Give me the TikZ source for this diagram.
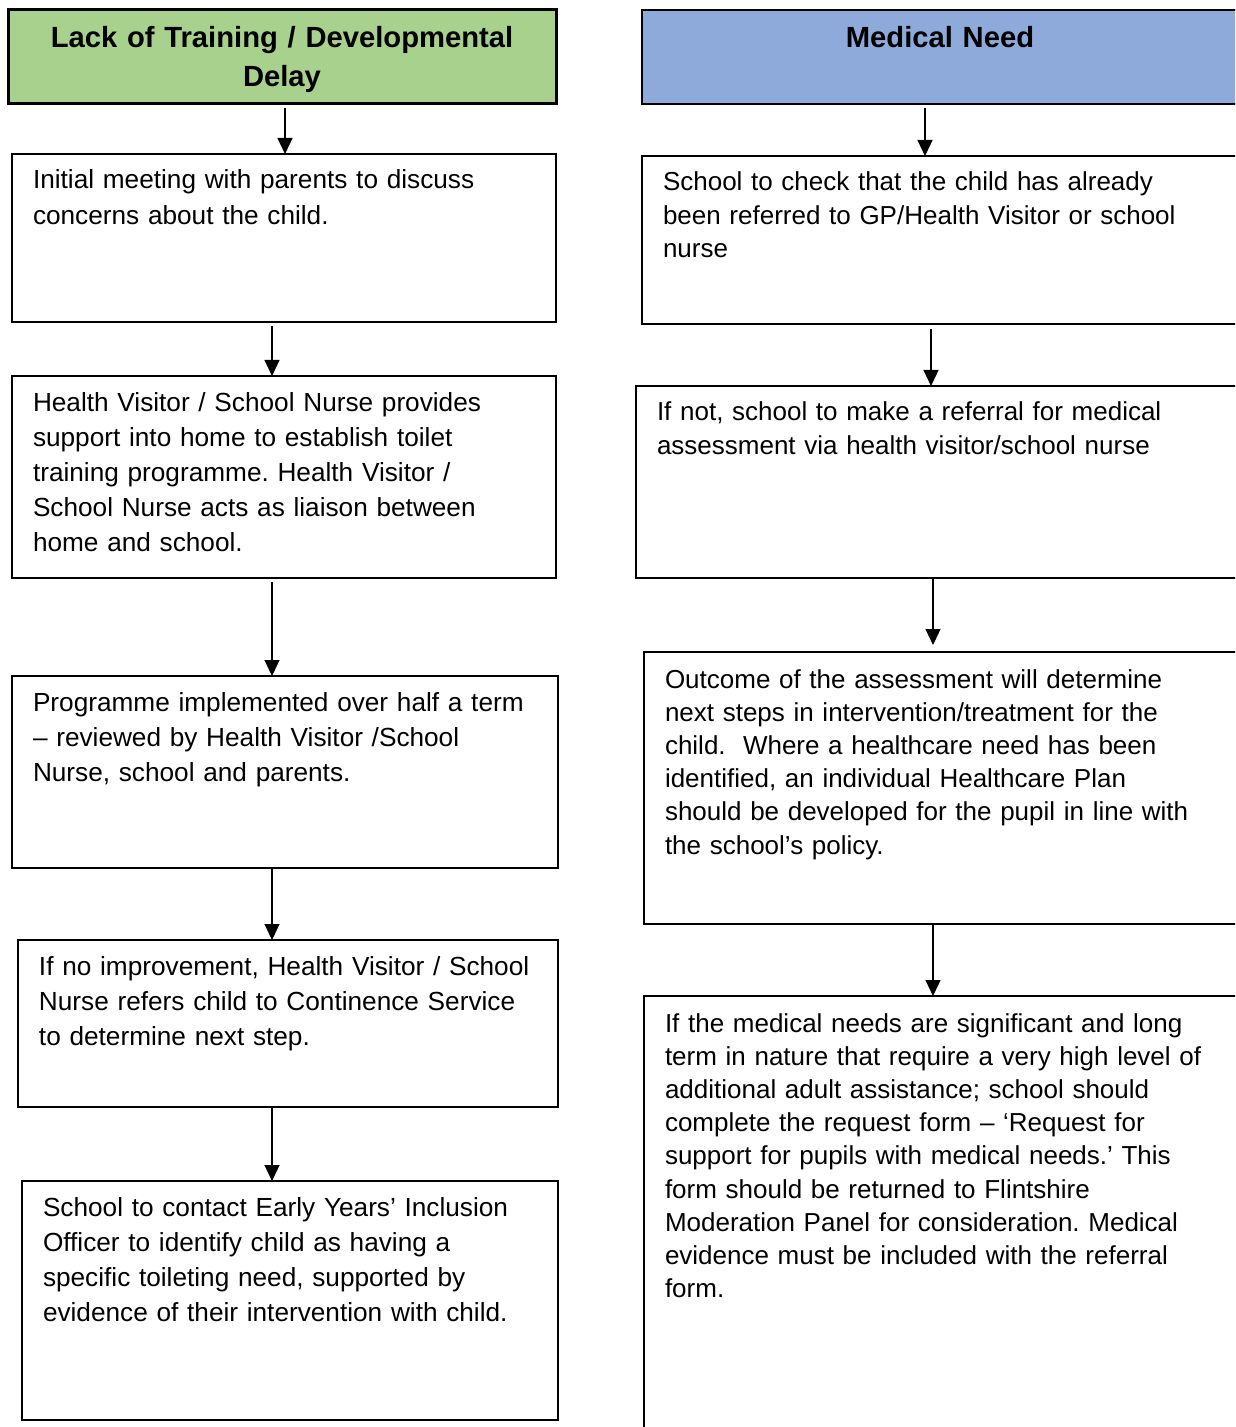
\documentclass[tikz,border=0pt]{standalone}
\usepackage{fontspec}
\setmainfont{Liberation Sans}
\usetikzlibrary{arrows.meta, positioning}
\definecolor{lackgreen}{HTML}{A9D18E}
\definecolor{medblue}{HTML}{8EAADB}
\newcommand{\headfont}{\fontsize{14.6pt}{19.5pt}\selectfont\bfseries}
\newcommand{\leftfont}{\fontsize{13.1pt}{17.6pt}\selectfont\frenchspacing}
\newcommand{\rightfont}{\fontsize{13pt}{16.6pt}\selectfont\frenchspacing}

\begin{document}
\begin{tikzpicture}[x=0.5pt, y=-0.5pt,
  headbox/.style={draw, outer sep=0pt, align=center, anchor=north west, inner xsep=10pt, inner ysep=0pt, text height=19pt, text depth=28pt, font=\headfont},
  stepbox/.style={draw, outer sep=0pt, line width=0.75pt, anchor=north west, align=left, inner xsep=10.5pt, inner ysep=0pt, text height=17.5pt},
  flow/.style={-{Triangle[width=7.5pt,length=8pt]}, line width=0.6pt}]
\clip (0,0) rectangle (1235,1427);

% left column
\node[headbox, fill=lackgreen, line width=1.5pt, text width=254pt] (lack) at (8,10) {Lack of Training / Developmental\\ Delay};
\node[stepbox, font=\leftfont, text width=251pt, text depth=66.5pt, below=25pt of lack.south west, anchor=north west, xshift=2pt] (meet)
  {Initial meeting with parents to discuss\\ concerns about the child.};
\node[stepbox, font=\leftfont, text width=251pt, text depth=83.5pt, below=27pt of meet.south west, anchor=north west] (visitor)
  {Health Visitor / School Nurse provides\\ support into home to establish toilet\\ training programme. Health Visitor /\\ School Nurse acts as liaison between\\ home and school.};
\node[stepbox, font=\leftfont, text width=252pt, text depth=78.5pt, below=49pt of visitor.south west, anchor=north west] (programme)
  {Programme implemented over half a term\\ – reviewed by Health Visitor /School\\ Nurse, school and parents.};
\node[stepbox, font=\leftfont, text width=249pt, text depth=66pt, below=36pt of programme.south west, anchor=north west, xshift=3pt] (refer)
  {If no improvement, Health Visitor / School\\ Nurse refers child to Continence Service\\ to determine next step.};
\node[stepbox, font=\leftfont, text width=247pt, text depth=102pt, below=37pt of refer.south west, anchor=north west, xshift=2pt] (inclusion)
  {School to contact Early Years’ Inclusion\\ Officer to identify child as having a\\ specific toileting need, supported by\\ evidence of their intervention with child.};

% right column
\node[headbox, fill=medblue, line width=1pt, text width=278pt] (medical) at (642,10) {Medical Need};
\node[stepbox, font=\rightfont, text width=279pt, text depth=66.5pt, below=26pt of medical.south west, anchor=north west] (check)
  {School to check that the child has already\\ been referred to GP/Health Visitor or school\\ nurse};
\node[stepbox, font=\rightfont, text width=285pt, text depth=78.5pt, below=31pt of check.south west, anchor=north west, xshift=-3pt] (referral)
  {If not, school to make a referral for medical\\ assessment via health visitor/school nurse};
\node[stepbox, font=\rightfont, text width=279pt, text height=18pt, text depth=118pt, below=37pt of referral.south west, anchor=north west, xshift=4pt] (outcome)
  {Outcome of the assessment will determine\\ next steps in intervention/treatment for the\\ child.\ \ Where a healthcare need has been\\ identified, an individual Healthcare Plan\\ should be developed for the pupil in line with\\ the school’s policy.};
\node[stepbox, font=\rightfont, text width=279pt, text height=18pt, text depth=209pt, below=36pt of outcome.south west, anchor=north west] (request)
  {If the medical needs are significant and long\\ term in nature that require a very high level of\\ additional adult assistance; school should\\ complete the request form – ‘Request for\\ support for pupils with medical needs.’ This\\ form should be returned to Flintshire\\ Moderation Panel for consideration. Medical\\ evidence must be included with the referral\\ form.};

% arrows
\draw[flow] ([xshift=1.5pt,yshift=-2pt]lack.south) -- ([xshift=0.5pt]meet.north);
\draw[flow] ([xshift=-6pt,yshift=-2pt]meet.south) -- ([xshift=-6pt]visitor.north);
\draw[flow] ([xshift=-6pt,yshift=-2pt]visitor.south) -- ([xshift=-6.5pt]programme.north);
\draw[flow] ([xshift=-6.5pt]programme.south) -- ([xshift=-8pt]refer.north);
\draw[flow] ([xshift=-8pt]refer.south) -- ([xshift=-9pt]inclusion.north);
\draw[flow] ([xshift=-7.5pt,yshift=-2pt]medical.south) -- ([xshift=-8.5pt]check.north);
\draw[flow] ([xshift=-5.5pt,yshift=-2.5pt]check.south) -- ([xshift=-5.5pt]referral.north);
\draw[flow] ([xshift=-4.5pt]referral.south) -- ([xshift=-5.5pt,yshift=3.5pt]outcome.north);
\draw[flow] ([xshift=-5.5pt]outcome.south) -- ([xshift=-5.5pt]request.north);
\end{tikzpicture}
\end{document}
